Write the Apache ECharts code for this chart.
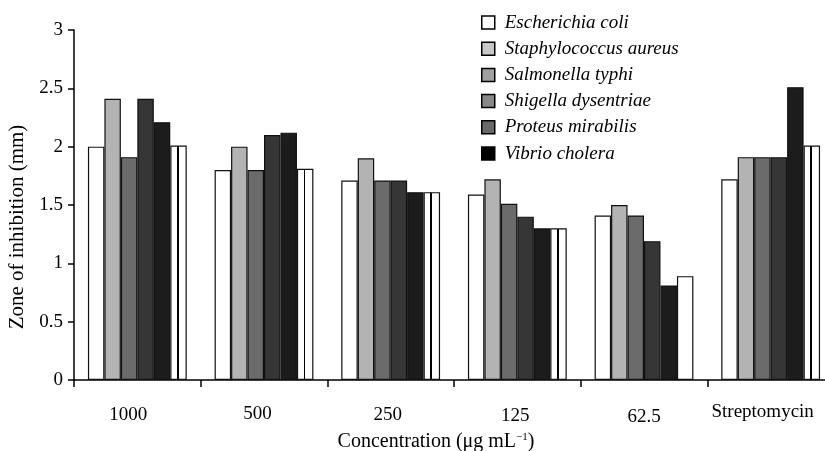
<!DOCTYPE html>
<html><head><meta charset="utf-8">
<script src="https://cdn.jsdelivr.net/npm/echarts@6/dist/echarts.min.js"></script>
<style>html,body{margin:0;padding:0;background:#fff}#c{width:825px;height:451px}</style>
</head><body><div id="c"></div>
<script>
const categories = ['1000', '500', '250', '125', '62.5', 'Streptomycin'];
const seriesNames = ['Escherichia coli', 'Staphylococcus aureus', 'Salmonella typhi', 'Shigella dysentriae', 'Proteus mirabilis', 'Vibrio cholera'];
const ecoli   = [2.00, 1.80, 1.71, 1.59, 1.41, 1.72];
const saureus = [2.41, 2.00, 1.90, 1.72, 1.50, 1.91];
const styphi  = [1.91, 1.80, 1.71, 1.51, 1.41, 1.91];
const sdys    = [2.41, 2.10, 1.71, 1.40, 1.19, 1.91];
const pmir    = [2.21, 2.12, 1.61, 1.30, 0.81, 2.51];
const vchol   = [2.01, 1.81, 1.61, 1.30, 0.89, 2.01];
const yTicks = [0, 0.5, 1, 1.5, 2, 2.5, 3];

// small label nudges (style only): [shift left px, shift down px]
const labelNudge = [[9, 3], [6.5, 1.5], [3, 3], [2, 3.5], [0, 5], [8, 0]];

const allValues = [ecoli, saureus, styphi, sdys, pmir, vchol];
const barColors = ['#ffffff', '#b3b3b3', '#6b6b6b', '#363636', '#1c1c1c', '#ffffff'];
const legendColors = ['#ffffff', '#c8c8c8', '#a0a0a0', '#888888', '#686868', '#000000'];
const FONT = "'Liberation Serif', 'Times New Roman', serif";

const stripe = {
  type: 'linear', x: 0, y: 0, x2: 1, y2: 0,
  colorStops: [
    {offset: 0, color: '#fff'}, {offset: 0.41, color: '#fff'},
    {offset: 0.41, color: '#000'}, {offset: 0.52, color: '#000'},
    {offset: 0.52, color: '#fff'}, {offset: 1, color: '#fff'}
  ]
};

const series = allValues.map((vals, i) => ({
  name: seriesNames[i],
  type: 'bar',
  barGap: '0%',
  barCategoryGap: '22%',
  itemStyle: {color: barColors[i], borderColor: '#111', borderWidth: 1.2},
  data: vals.map((v, j) => {
    if (i === 5 && j !== 4) return {value: v, itemStyle: {color: stripe}};
    return v;
  })
}));

const catData = categories.map((c, i) => ({
  value: c,
  textStyle: {padding: [labelNudge[i][1], labelNudge[i][0] * 2, 0, 0]}
}));

const chart = echarts.init(document.getElementById('c'), null, {renderer: 'canvas'});
chart.setOption({
  animation: false,
  backgroundColor: '#fff',
  textStyle: {fontFamily: FONT},
  legend: {
    orient: 'vertical', left: 481, top: 13, padding: 0,
    icon: 'rect',
    itemWidth: 13, itemHeight: 13, itemGap: 7.2,
    data: seriesNames.map((n, i) => ({name: n, itemStyle: {color: legendColors[i], borderColor: '#000', borderWidth: 1.5}})),
    textStyle: {fontFamily: FONT, fontStyle: 'italic', fontSize: 19, color: '#000', padding: [0, 0, 0, 5]},
    selectedMode: false
  },
  grid: {left: 74, right: -9, top: 30, bottom: 71, containLabel: false, outerBoundsMode: 'none'},
  xAxis: {
    type: 'category', data: catData,
    name: 'Concentration (μg mL{sup|−1})', nameLocation: 'middle', nameGap: 52,
    nameTextStyle: {fontFamily: FONT, fontSize: 20, color: '#000', padding: [0, 36, 0, 0],
      rich: {sup: {fontSize: 11, fontFamily: FONT, color: '#000', padding: [0, 0, 9, 0]}}},
    axisLine: {lineStyle: {color: '#000', width: 1.5}},
    axisTick: {show: true, length: 7, inside: false, lineStyle: {color: '#000', width: 1.5}},
    axisLabel: {fontFamily: FONT, fontSize: 19, color: '#000', margin: 23, interval: 0}
  },
  yAxis: {
    type: 'value', min: 0, max: 3, interval: 0.5,
    name: 'Zone of inhibition (mm)', nameLocation: 'middle', nameGap: 43,
    nameTextStyle: {fontFamily: FONT, fontSize: 21, color: '#000', padding: [0, 44, 0, 0]},
    axisLine: {show: true, lineStyle: {color: '#000', width: 1.5}},
    axisTick: {show: true, length: 6, lineStyle: {color: '#000', width: 1.5}},
    splitLine: {show: false},
    axisLabel: {fontFamily: FONT, fontSize: 19, color: '#000', margin: 11,
      formatter: v => yTicks.includes(v) ? String(v) : ''}
  },
  series: series
});
</script></body></html>
